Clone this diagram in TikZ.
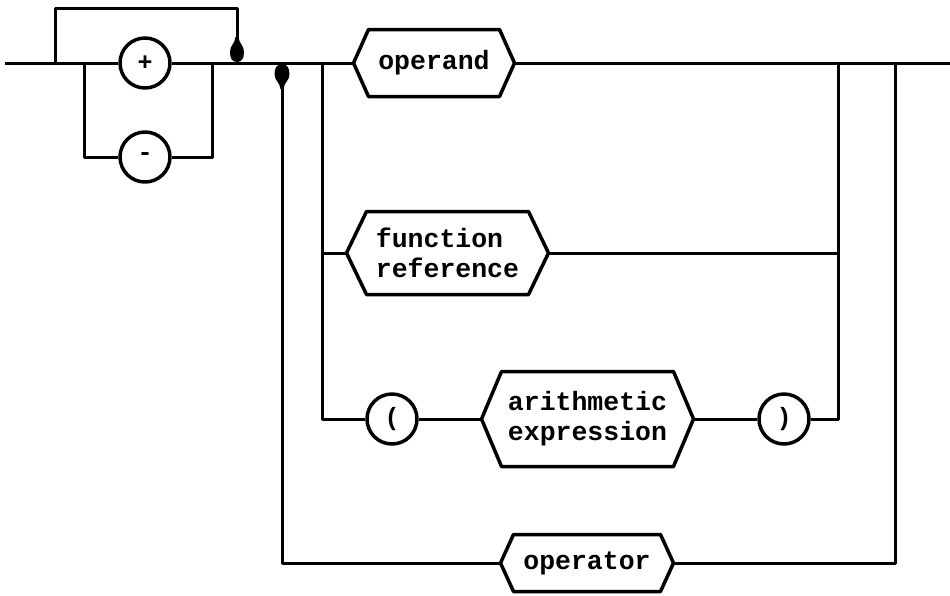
\documentclass[tikz,border=0pt]{standalone}
\usepackage{fontspec}
\newfontfamily\diagfont{Liberation Mono}
\newcommand\hexpath[2]{\draw[hexline] (#1.west) -- ([xshift=#2]#1.north west) -- ([xshift=-#2]#1.north east) -- (#1.east) -- ([xshift=-#2]#1.south east) -- ([xshift=#2]#1.south west) -- cycle;}
\begin{document}
\begin{tikzpicture}[x=1pt,y=-1pt, line width=3pt, line join=round,
  hexbox/.style={rectangle, inner sep=0pt, align=left, font=\diagfont\bfseries\fontsize{26.5}{30}\selectfont},
  term/.style={circle, draw, line width=3.5pt, minimum size=50pt, inner sep=0pt, font=\diagfont\bfseries\fontsize{25}{25}\selectfont},
  hexline/.style={line width=3.5pt},
  bulb/.style={fill=black, draw=none}]
\useasboundingbox (0,0) rectangle (950,595);

% terminals
\node[term] (plus) at (145,63) {+};
\node[term] (minus) at (145,157) {-};
\node[term] (lp) at (392,419) {(};
\node[term] (rp) at (784,419) {)};

% non-terminals
\node[hexbox, minimum width=158pt, minimum height=64pt] (operand) at (434,63) {operand};
\node[hexbox, minimum width=199pt, minimum height=80pt] (func) at (447.5,253) {function\\reference};
\node[hexbox, minimum width=209pt, minimum height=92pt] (arith) at (587.5,419) {arithmetic\\expression};
\node[hexbox, minimum width=170pt, minimum height=54pt] (op) at (587,563) {operator};
\hexpath{operand}{15}
\hexpath{func}{20}
\hexpath{arith}{20}
\hexpath{op}{13}

% junction coordinates
\coordinate (s) at (5,63);
\coordinate (j1) at (55,63);
\coordinate (j2) at (84,63);
\coordinate (j3) at (212,63);
\coordinate (j4) at (237,63);
\coordinate (j5) at (282,63);
\coordinate (j6) at (322,63);
\coordinate (j7) at (838,63);
\coordinate (j8) at (895,63);
\coordinate (e) at (950,63);
\coordinate (tl) at (55,8);
\coordinate (tr) at (237,8);

% main line
\draw (s) -- (plus.west);
\draw (plus.east) -- (operand.west);
\draw (operand.east) -- (e);
% optional sign loop
\draw (j1) -- (tl) -- (tr) -- (j4);
\draw (j2) |- (minus.west);
\draw (minus.east) -| (j3);
% alternatives
\draw (j6) |- (lp.west);
\draw (func.west -| j6) -- (func.west);
\draw (func.east) -- (func.east -| j7);
\draw (lp.east) -- (arith.west);
\draw (arith.east) -- (rp.west);
\draw (rp.east) -| (j7);
% operator loop
\draw (j8) |- (op.east);
\draw (op.west) -| (j5);

% flow indicators
\fill[bulb, shift={(j4)}] (-1.6,-26) -- (1.6,-26) .. controls (2,-19) and (7,-18) .. (7,-11) .. controls (7,-5) and (5,-1) .. (0,-1) .. controls (-5,-1) and (-7,-5) .. (-7,-11) .. controls (-7,-18) and (-2,-19) .. (-1.6,-26) -- cycle;
\fill[bulb, shift={(j5)}, yscale=-1] (-1.6,-26) -- (1.6,-26) .. controls (2,-19) and (7.5,-18) .. (7.5,-11) .. controls (7.5,-5) and (5,-1) .. (0,-1) .. controls (-5,-1) and (-7.5,-5) .. (-7.5,-11) .. controls (-7.5,-18) and (-2,-19) .. (-1.6,-26) -- cycle;
\end{tikzpicture}
\end{document}
